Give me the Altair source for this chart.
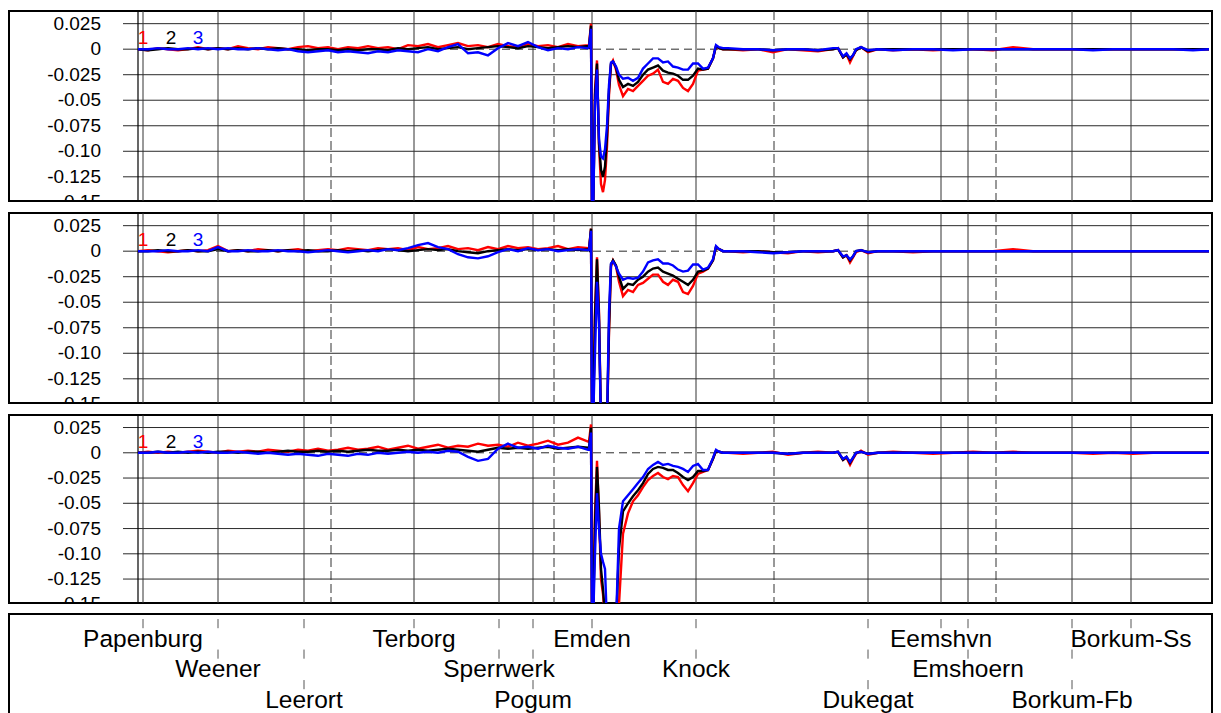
import altair as alt
import pandas as pd

FONT = "Liberation Sans"
RED = "#ff0000"
BLUE = "#0000ff"

# ---- stations (km along the estuary) ----
STATIONS = ["Papenburg", "Weener", "Leerort", "Terborg", "Sperrwerk", "Pogum", "Emden",
            "Knock", "Dukegat", "Eemshvn", "Emshoern", "Borkum-Fb", "Borkum-Ss"]
STATION_KM = [0.0, 7.5, 16.1, 27.1, 35.6, 39.0, 44.9, 55.3, 72.5, 79.8, 82.5, 92.9, 98.8]
STATION_ROW = [1, 2, 3, 1, 2, 3, 1, 2, 3, 1, 2, 3, 1]
DASHED_KM = [18.8, 41.1, 63.1, 85.3]
AXIS_KM = -0.5
GRID_LEFT = -2.0
GRID_RIGHT = 106.6
LABEL_KM = -4.2
X_DOMAIN = [-13.4, 106.9]
Y_DOMAIN = [-148.7, 37.4]   # in units of 0.001
PANEL_W = 1203

Y_TICKS = [25, 0, -25, -50, -75, -100, -125, -150]
Y_TICK_LABELS = ["0.025", "0", "-0.025", "-0.05", "-0.075", "-0.10", "-0.125", "-0.15"]
GRID_Y = [25, -25, -50, -75, -100, -125]

SERIES = ["1", "2", "3"]
SERIES_LABEL_KM = [0.0, 2.8, 5.5]
SERIES_LABEL_Y = [5, 5, 5]

# ---- sample positions (km) ----
X_LEFT = [-0.5, 0.5, 1.5, 2.5, 3.5, 4.5, 5.5, 6.5, 7.5, 8.5,
          9.5, 10.5, 11.5, 12.5, 13.5, 14.5, 15.5, 16.5, 17.5, 18.5,
          19.5, 20.5, 21.5, 22.5, 23.5, 24.5, 25.5, 26.5, 27.5, 28.5,
          29.5, 30.5, 31.5, 32.5, 33.5, 34.5, 35.5, 36.5, 37.5, 38.5,
          39.5, 40.5, 41.5, 42.5, 43.5, 44.5]
X_DIP = [44.6, 44.8, 44.9, 45.0, 45.2, 45.4, 45.6, 45.8, 46.0, 46.2,
         46.4, 46.6, 46.8, 47.0, 47.3, 47.6, 48.0, 48.5, 49.0, 49.5,
         50.0, 50.5, 51.0, 51.5, 52.0, 52.5, 53.0, 53.5, 54.0, 54.5,
         55.0, 55.5, 56.0, 56.5, 57.0, 57.3, 57.6, 58.0]
X_RIGHT = [58.5, 60, 61.5, 63, 64.5, 66, 67.5, 69.0, 69.5, 70.0,
           70.35, 70.7, 71.0, 71.3, 71.8, 72.5, 73.5, 75, 77, 79,
           81, 83, 85, 87, 89, 91, 93, 95, 97, 99,
           101, 103, 105, 106.6]

# ---- values (units of 0.001) ----
P1_RED = ([0, -1, 1, 0, -1, 0, 2, 0, 1, 0, 3, 1, 0, 2, 1, 0, 2, 3, 1, 2,
           0, 2, 1, 3, 1, 2, 0, 4, 3, 5, 2, 4, 6, 3, 4, 2, 5, 3, 2, 5, 3, 4, 2, 5, 3, 4]
          + [4, 25, -170, -170, -40, -11, -95, -132, -140, -128,
             -95, -45, -15, -11, -20, -35, -46, -39, -41, -36,
             -31, -26, -24, -20, -32, -34, -29, -31, -38, -41,
             -34, -21, -20, -19, -9, 3, 1, 0]
          + [0, -1, 0, -3, 0, -1, -2, 0, 1, -8, -5, -13, -7, -1, 2, -3, 0, -1, 0, -1,
             0, 0, -1, 2, 0, 0, 0, 0, 0, 0, 0, 0, 0, 0])
P1_BLACK = ([0, -1, 0, 1, 0, 0, 1, 0, 1, 0, 1, 0, 1, 0, 1, 0, 0, -1, 0, 0,
             -1, 0, -1, 0, 0, -1, 1, 0, 1, 2, 0, 1, 2, 0, 1, 2, 3, 2, 1, 3, 2, 1, 2, 3, 2, 3]
            + [2, 23, -170, -170, -45, -14, -92, -118, -125, -115,
               -85, -40, -14, -12, -18, -30, -37, -34, -36, -32,
               -25, -20, -18, -16, -21, -23, -24, -26, -30, -30,
               -26, -19, -20, -19, -9, 3, 1, 0]
            + [0, 0, 0, -1, 0, 0, -1, 0, 1, -8, -5, -10, -6, -1, 2, -2, 0, 0, 0, 0,
               0, 0, 0, 0, 0, 0, 0, 0, 0, 0, 0, 0, 0, 0])
P1_BLUE = ([0, 0, 1, 0, 0, 1, 0, 1, 0, 1, 0, 0, 1, 0, -1, 0, -2, -3, -2, -1,
            -3, -2, -3, -4, -2, -3, -1, -2, -3, 0, -2, 2, 5, -4, -3, -6, 1, 6, 3, 7, 2, -1, 1, 0, 2, 1]
           + [2, 20, -170, -170, -55, -20, -88, -105, -107, -98,
              -75, -35, -13, -12, -17, -25, -29, -28, -31, -28,
              -19, -14, -9, -9, -13, -12, -17, -18, -20, -20,
              -14, -14, -19, -18, -9, 4, 2, 1]
           + [1, 0, 0, -1, 0, 0, -1, 1, 1, -7, -4, -9, -6, 0, 2, -1, 0, -1, 0, 0,
              -1, 0, 0, 0, 0, 0, 0, -1, 0, 0, 0, 0, -1, 0])

P2_RED = ([0, 1, 0, -1, 0, 1, 0, 1, 5, 0, 1, 0, 2, 1, 0, 1, 2, 0, 1, 2,
           1, 3, 2, 1, 3, 2, 3, 1, 4, 2, 3, 5, 2, 3, 1, 4, 2, 5, 3, 4, 2, 3, 5, 2, 4, 3]
          + [2, 22, -170, -170, -60, -6, -60, -170, -170, -170,
             -170, -80, -15, -9, -15, -30, -44, -38, -40, -33,
             -31, -27, -23, -23, -30, -33, -28, -30, -40, -42,
             -34, -22, -20, -17, -9, 4, 2, 0]
          + [0, -1, 0, -1, -2, 0, -1, 0, 1, -6, -4, -11, -6, -1, 1, -2, 0, 0, -1, 0,
             0, 0, 0, 2, 0, 0, 0, 0, 0, 0, 0, 0, 0, 0])
P2_BLACK = ([0, 0, 1, 0, 0, 1, 0, 0, 2, 0, 1, 0, 0, 1, 0, 1, 0, 1, 0, 0,
             1, 0, 1, 0, 1, 2, 1, 0, 1, 2, 1, 2, 0, -1, -2, 0, 1, 2, 1, 2, 1, 2, 1, 2, 1, 2]
            + [1, 22, -170, -170, -65, -8, -65, -170, -170, -170,
               -170, -75, -13, -9, -14, -25, -37, -32, -33, -28,
               -25, -20, -17, -16, -20, -22, -24, -27, -30, -33,
               -28, -20, -19, -17, -9, 4, 2, 0]
            + [0, 0, 0, -1, -1, 0, 0, 0, 1, -6, -4, -9, -5, 0, 1, -1, 0, 0, 0, 0,
               0, 0, 0, 0, 0, 0, 0, 0, 0, 0, 0, 0, 0, 0])
P2_BLUE = ([0, 0, 0, 1, 0, 0, 1, 0, 4, 0, 0, 1, 0, 0, 1, 0, 0, -1, 0, 1,
            0, -1, 0, 1, 0, 2, 1, 3, 6, 8, 4, 2, -3, -6, -7, -5, -1, 2, 0, 3, 1, 2, 0, 1, 2, 1]
           + [1, 20, -170, -170, -100, -30, -70, -170, -170, -170,
              -170, -60, -12, -10, -15, -22, -28, -26, -27, -26,
              -20, -11, -9, -8, -12, -12, -14, -18, -20, -19,
              -13, -13, -18, -16, -8, 5, 2, 0]
           + [0, 0, -1, -2, -1, 0, 0, 0, 1, -5, -4, -8, -5, 0, 1, -1, 0, 0, 0, 0,
              0, 0, 0, 0, 0, 0, 0, 0, 0, 0, 0, 0, 0, 0])

P3_RED = ([0, 1, 0, 1, 0, 1, 2, 1, 0, 2, 1, 2, 1, 3, 2, 1, 3, 2, 4, 2,
           3, 5, 3, 4, 6, 3, 5, 7, 4, 6, 8, 5, 7, 6, 9, 7, 8, 6, 10, 7, 9, 12, 8, 10, 15, 11]
          + [11, 28, -170, -170, -60, -8, -60, -125, -140, -165,
             -170, -170, -170, -170, -170, -150, -80, -60, -48, -42,
             -34, -27, -23, -20, -24, -26, -23, -24, -32, -38,
             -30, -21, -19, -17, -6, 2, 1, 0]
          + [0, -1, 0, 1, -2, 0, 1, 0, 1, -7, -5, -12, -6, -1, 2, -2, 0, 1, 0, -1,
             0, 1, 0, 1, 0, 0, 0, -1, 0, -1, 0, 0, 0, 0])
P3_BLACK = ([0, 0, 1, 0, 1, 0, 1, 0, 1, 1, 0, 1, 1, 0, 1, 2, 1, 1, 2, 1,
             2, 1, 2, 3, 2, 2, 3, 2, 3, 2, 3, 4, 3, 2, 1, 3, 5, 4, 5, 4, 5, 6, 4, 5, 6, 5]
            + [5, 25, -170, -170, -70, -14, -55, -115, -135, -160,
               -170, -170, -170, -170, -170, -95, -58, -50, -43, -37,
               -30, -21, -16, -14, -15, -17, -17, -20, -24, -27,
               -24, -18, -18, -17, -6, 2, 1, 0]
            + [0, 0, 0, 0, -1, 0, 0, 0, 1, -7, -4, -10, -5, 0, 1, -1, 0, 0, 0, 0,
               0, 0, 0, 0, 0, 0, 0, 0, 0, 0, 0, 0, 0, 0])
P3_BLUE = ([0, 0, 1, 0, 0, 1, 0, 1, 0, 0, 1, 0, -1, 0, -1, -2, -1, -2, -3, -1,
            -2, -3, -1, -2, 0, -1, 0, 1, 0, 1, 0, 2, 1, -4, -8, -6, 4, 9, 5, 6, 4, 7, 5, 4, 6, 3]
           + [3, 20, -170, -170, -100, -40, -75, -100, -108, -115,
              -170, -170, -170, -170, -170, -75, -48, -42, -36, -30,
              -24, -16, -12, -9, -12, -11, -13, -14, -16, -19,
              -13, -11, -17, -17, -5, 3, 1, 0]
           + [0, 0, 0, 0, -1, 0, 0, 0, 1, -6, -4, -9, -5, 0, 1, -1, 0, 0, 0, 0,
              0, 0, 0, 0, 0, 0, 0, 0, 0, 0, 0, 0, 0, 0])

XS = X_LEFT + X_DIP + X_RIGHT
xscale = alt.Scale(domain=X_DOMAIN, nice=False, zero=False)
yscale = alt.Scale(domain=Y_DOMAIN, nice=False, zero=False)
cscale = alt.Scale(domain=SERIES, range=[RED, "#000000", BLUE])


def series_df(red, black, blue):
    rows = []
    for name, vals in zip(SERIES, (red, black, blue)):
        assert len(vals) == len(XS), (name, len(vals), len(XS))
        for x, v in zip(XS, vals):
            rows.append({"km": x, "v": v, "s": name})
    return pd.DataFrame(rows)


def X(field):
    return alt.X(field, scale=xscale, axis=None)


def Y(field):
    return alt.Y(field, scale=yscale, axis=None)


def panel(red, black, blue, height):
    grid = pd.DataFrame({"y": GRID_Y, "x1": [GRID_LEFT] * len(GRID_Y), "x2": [GRID_RIGHT] * len(GRID_Y)})
    hgrid = alt.Chart(grid).mark_rule(color="#2a2a2a", strokeWidth=1).encode(
        x=X("x1:Q"), x2="x2:Q", y=Y("y:Q"))
    zero_tick = alt.Chart(pd.DataFrame({"y": [0], "x1": [GRID_LEFT], "x2": [AXIS_KM]})).mark_rule(
        color="#2a2a2a", strokeWidth=1).encode(x=X("x1:Q"), x2="x2:Q", y=Y("y:Q"))
    zero_line = alt.Chart(pd.DataFrame({"y": [0], "x1": [AXIS_KM], "x2": [GRID_RIGHT]})).mark_rule(
        color="#2a2a2a", strokeWidth=1, strokeDash=[8, 5]).encode(x=X("x1:Q"), x2="x2:Q", y=Y("y:Q"))
    vlines = alt.Chart(pd.DataFrame({"km": STATION_KM})).mark_rule(
        color="#333333", strokeWidth=1).encode(x=X("km:Q"))
    vdash = alt.Chart(pd.DataFrame({"km": DASHED_KM})).mark_rule(
        color="#333333", strokeWidth=1, strokeDash=[9, 4]).encode(x=X("km:Q"))
    axis_line = alt.Chart(pd.DataFrame({"km": [AXIS_KM]})).mark_rule(
        color="#000000", strokeWidth=1.2).encode(x=X("km:Q"))
    lines = alt.Chart(series_df(red, black, blue)).mark_line(strokeWidth=2.4, clip=True).encode(
        x=X("km:Q"), y=Y("v:Q"),
        color=alt.Color("s:N", scale=cscale, legend=None))
    ylabels = alt.Chart(pd.DataFrame({"y": Y_TICKS, "label": Y_TICK_LABELS,
                                      "x": [LABEL_KM] * len(Y_TICKS)})).mark_text(
        align="right", baseline="middle", fontSize=19, font=FONT, color="#000000", clip=True).encode(
        x=X("x:Q"), y=Y("y:Q"), text="label:N")
    slabels = alt.Chart(pd.DataFrame({"x": SERIES_LABEL_KM, "y": SERIES_LABEL_Y, "s": SERIES})).mark_text(
        align="center", baseline="alphabetic", fontSize=19, font=FONT).encode(
        x=X("x:Q"), y=Y("y:Q"), text="s:N", color=alt.Color("s:N", scale=cscale, legend=None))
    return alt.layer(hgrid, zero_tick, zero_line, vlines, vdash, axis_line, lines, ylabels, slabels).properties(
        width=PANEL_W, height=height)


p1 = panel(P1_RED, P1_BLACK, P1_BLUE, 190)
p2 = panel(P2_RED, P2_BLACK, P2_BLUE, 190)
p3 = panel(P3_RED, P3_BLACK, P3_BLUE, 188)

# ---- bottom station panel ----
BOTTOM_H = 101
ROW_STEP = 30.5
ROW_OFF = 2.0
row_scale = alt.Scale(domain=[-ROW_OFF / ROW_STEP, (BOTTOM_H - ROW_OFF) / ROW_STEP],
                      reverse=True, nice=False, zero=False)
lab_df = pd.DataFrame({"km": STATION_KM, "row": STATION_ROW, "name": STATIONS})
tick_rows = []
for km, r in zip(STATION_KM, STATION_ROW):
    for k in range(1, r + 1):
        tick_rows.append({"km": km, "y1": k - 0.9, "y2": k - 0.6})
tick_df = pd.DataFrame(tick_rows)

names = alt.Chart(lab_df).mark_text(align="center", baseline="alphabetic", fontSize=24.5,
                                    font=FONT, color="#000000").encode(
    x=X("km:Q"), y=alt.Y("row:Q", scale=row_scale, axis=None), text="name:N")
ticks = alt.Chart(tick_df).mark_rule(color="#555555", strokeWidth=1).encode(
    x=X("km:Q"), y=alt.Y("y1:Q", scale=row_scale, axis=None), y2="y2:Q")
bottom = alt.layer(ticks, names).properties(width=PANEL_W, height=BOTTOM_H)

chart = alt.vconcat(p1, p2, p3, bottom, spacing=8).properties(
    padding={"left": 0, "top": 1, "right": 0, "bottom": 0}
).configure_view(stroke="#000000", strokeWidth=2)

chart.save("out.html", embed_options={"renderer": "svg", "actions": False})
